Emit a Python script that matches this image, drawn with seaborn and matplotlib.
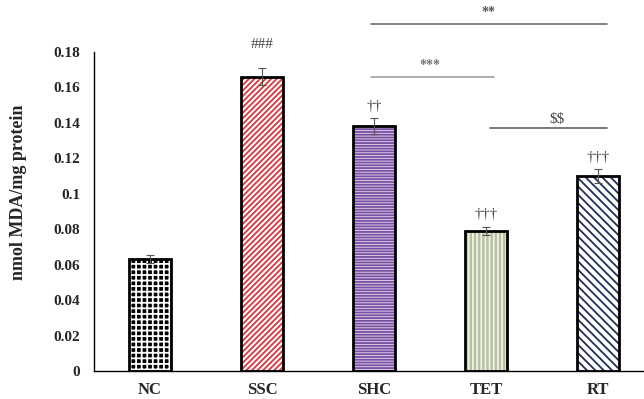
import pandas as pd
import seaborn as sns
import matplotlib.pyplot as plt

# dados
grupos = ['NC', 'SSC', 'SHC', 'TET', 'RT']
mda = [0.0632, 0.1659, 0.1380, 0.0791, 0.1100]
erro = [0.0020, 0.0048, 0.0045, 0.0023, 0.0038]
marcas = ['', '###', '††', '†††', '†††']
folga_marca = [0, 0.010, 0.003, 0.003, 0.003]

cores_fundo = ['#000000', '#ffffff', '#d9cce6', '#b9c3a0', '#ffffff']
cores_hatch = ['#ffffff', '#d9363e', '#7a4ea3', '#eef2e0', '#1f2f5e']
hatches = ['+++', '//////', '------', '||||', '\\\\\\\\']

sns.set_style('white')
plt.rcParams['font.family'] = ['Liberation Serif', 'DejaVu Serif']
plt.rcParams['font.weight'] = 'bold'
plt.rcParams['hatch.linewidth'] = 1.3

df = pd.DataFrame({'grupo': grupos, 'mda': mda})

fig = plt.figure(figsize=(6.44, 3.99), dpi=100)
ax = fig.add_axes([94 / 644, 28 / 399, 560 / 644, 319 / 399])

# barras com preenchimento hachurado
sns.barplot(data=df, x='grupo', y='mda', hue='grupo', palette=cores_fundo,
            width=0.37, errorbar=None, legend=False, ax=ax, linewidth=0)
for p, h, c in zip(ax.patches, hatches, cores_hatch):
    p.set_hatch(h)
    p.set_edgecolor(c)
    p.set_linewidth(0)

# contorno preto
sns.barplot(data=df, x='grupo', y='mda', fill=False, color='black',
            width=0.37, errorbar=None, ax=ax, linewidth=2)

ax.errorbar(x=range(len(grupos)), y=mda, yerr=erro, fmt='none',
            ecolor='#555555', elinewidth=0.8, capsize=3, capthick=0.8)

for i, (m, e, s, f) in enumerate(zip(mda, erro, marcas, folga_marca)):
    if s:
        ax.text(i, m + e + f, s, ha='center', va='bottom',
                fontsize=11, color='#444444', fontweight='normal')

# comparações entre grupos
ax.plot([1.97, 4.08], [0.1958, 0.1958], color='#707070', lw=1.2, clip_on=False)
ax.text(3.02, 0.1985, '**', ha='center', va='bottom', fontsize=10,
        color='#555555')
ax.plot([1.97, 3.07], [0.1659, 0.1659], color='#a0a0a0', lw=1.2, clip_on=False)
ax.text(2.5, 0.1685, '***', ha='center', va='bottom', fontsize=10,
        color='#777777')
ax.plot([3.04, 4.08], [0.1371, 0.1371], color='#606060', lw=1.2, clip_on=False)
ax.text(3.63, 0.1380, r'\$\$', ha='center', va='bottom', fontsize=11,
        color='#444444', fontweight='normal')

ax.set_ylim(0, 0.18)
ax.set_xlim(-0.5, 4.5)
ax.set_yticks([0, 0.02, 0.04, 0.06, 0.08, 0.1, 0.12, 0.14, 0.16, 0.18])
ax.set_yticklabels(['0', '0.02', '0.04', '0.06', '0.08', '0.1', '0.12',
                    '0.14', '0.16', '0.18'])
ax.set_xticks([0.5, 1.5, 2.5, 3.5], minor=False)
ax.set_xticks(range(len(grupos)), minor=True)
ax.set_xticklabels([])
ax.set_xticklabels(grupos, minor=True)
ax.tick_params(axis='x', which='major', direction='out', length=4, width=1)
ax.tick_params(axis='x', which='minor', length=0, pad=8, labelsize=12)
ax.tick_params(axis='y', direction='out', length=5, width=1, labelsize=11,
               pad=5)
for lbl in ax.get_xticklabels(minor=True) + ax.get_yticklabels():
    lbl.set_fontweight('bold')

ax.set_xlabel('')
ax.set_ylabel('nmol MDA/mg protein', fontsize=13, fontweight='bold')
ax.yaxis.set_label_coords(-0.12, 0.56)
sns.despine(ax=ax)
for s in ['left', 'bottom']:
    ax.spines[s].set_color('black')
    ax.spines[s].set_linewidth(1)

fig.savefig('out.png', dpi=100)
